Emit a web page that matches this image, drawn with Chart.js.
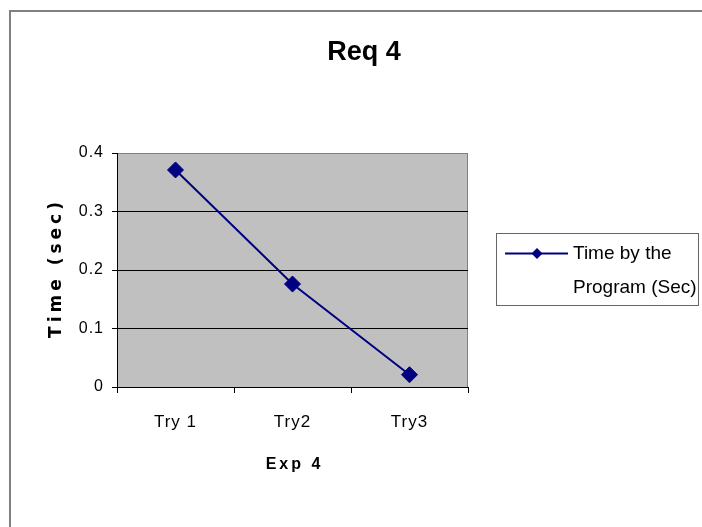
<!DOCTYPE html>
<html>
<head>
<meta charset="utf-8">
<script src="https://cdn.jsdelivr.net/npm/chart.js@4.4.1/dist/chart.umd.min.js"></script>
<style>
  html, body { margin: 0; padding: 0; background: #ffffff; }
  #wrap { width: 702px; height: 527px; }
</style>
</head>
<body>
<div id="wrap"><canvas id="chart" width="702" height="527"></canvas></div>
<script>
// Run times per attempt
const categories = ['Try 1', 'Try2', 'Try3'];
const timeValues = [0.371, 0.176, 0.021];
const yTicks = [0, 0.1, 0.2, 0.3, 0.4];

const chartTitle = 'Req 4';
const xTitle = 'Exp 4';
const yTitle = 'Time (sec)';
const legendLines = ['Time by the', 'Program (Sec)'];

const NAVY = '#000080';
const SANS = '"Liberation Sans", Arial, sans-serif';

function setSpacing(ctx, px) {
  if ('letterSpacing' in ctx) ctx.letterSpacing = px + 'px';
}

// Grey plot background, outer frame, titles and the boxed legend
const decor = {
  id: 'decor',
  beforeUpdate(chart) { setSpacing(chart.ctx, 1); },
  beforeDraw(chart) {
    const { ctx, chartArea: a } = chart;
    ctx.save();
    ctx.fillStyle = '#ffffff';
    ctx.fillRect(0, 0, chart.width, chart.height);
    // outer frame
    ctx.strokeStyle = '#808080';
    ctx.lineWidth = 2;
    ctx.strokeRect(10, 11, chart.width + 40, chart.height + 40);
    // plot area
    ctx.fillStyle = '#c0c0c0';
    ctx.fillRect(a.left, a.top, a.right - a.left, a.bottom - a.top);
    ctx.strokeStyle = '#808080';
    ctx.lineWidth = 1;
    ctx.strokeRect(a.left + 0.5, a.top + 0.5, a.right - a.left - 1, a.bottom - a.top);
    ctx.restore();
    setSpacing(ctx, 1);
  },
  afterDraw(chart) {
    const { ctx, chartArea: a } = chart;
    ctx.save();
    ctx.fillStyle = '#000000';
    ctx.textBaseline = 'middle';

    // chart title
    ctx.textAlign = 'center';
    ctx.font = 'bold 27px ' + SANS;
    setSpacing(ctx, 0);
    ctx.fillText(chartTitle, 364, 53);

    // x-axis title
    ctx.font = 'bold 16px ' + SANS;
    setSpacing(ctx, 3);
    ctx.fillText(xTitle, (a.left + a.right) / 2 + 2, 465);

    // y-axis title
    ctx.save();
    ctx.translate(57, (a.top + a.bottom) / 2);
    ctx.rotate(-Math.PI / 2);
    ctx.font = 'bold 17px "DejaVu Sans", sans-serif';
    setSpacing(ctx, 4);
    ctx.fillText(yTitle, 2, 0);
    ctx.restore();

    // legend
    const ds = chart.data.datasets[0];
    const bx = 496, by = 233, bw = 202, bh = 72;
    ctx.strokeStyle = '#666666';
    ctx.lineWidth = 1;
    ctx.strokeRect(bx + 0.5, by + 0.5, bw, bh);
    const ly = by + 20.5;
    ctx.strokeStyle = ds.borderColor;
    ctx.lineWidth = 2;
    ctx.beginPath();
    ctx.moveTo(bx + 9, ly);
    ctx.lineTo(bx + 72, ly);
    ctx.stroke();
    ctx.fillStyle = ds.pointBackgroundColor;
    ctx.beginPath();
    const cx = bx + 41, r = 5.5;
    ctx.moveTo(cx, ly - r);
    ctx.lineTo(cx + r, ly);
    ctx.lineTo(cx, ly + r);
    ctx.lineTo(cx - r, ly);
    ctx.closePath();
    ctx.fill();
    ctx.fillStyle = '#000000';
    ctx.textAlign = 'left';
    ctx.font = '19px ' + SANS;
    setSpacing(ctx, 0);
    legendLines.forEach((line, i) => ctx.fillText(line, bx + 77, ly + i * 34));

    ctx.restore();
    setSpacing(ctx, 1);
  }
};

new Chart(document.getElementById('chart'), {
  type: 'line',
  data: {
    labels: categories,
    datasets: [{
      label: legendLines.join(' '),
      data: timeValues,
      borderColor: NAVY,
      borderWidth: 2,
      tension: 0,
      pointStyle: 'rectRot',
      pointRadius: 8,
      pointHoverRadius: 8,
      pointBackgroundColor: NAVY,
      pointBorderColor: NAVY,
      pointBorderWidth: 1
    }]
  },
  options: {
    responsive: false,
    animation: false,
    events: [],
    layout: { padding: { top: 153, right: 234, left: 0, bottom: 0 } },
    plugins: {
      legend: { display: false },
      title: { display: false },
      tooltip: { enabled: false }
    },
    scales: {
      x: {
        type: 'category',
        offset: true,
        afterFit(scale) { scale.height = 140; },
        grid: {
          offset: true,
          drawOnChartArea: false,
          drawTicks: true,
          tickLength: 6,
          tickColor: '#000000',
          color: '#000000'
        },
        border: { display: true, color: '#000000', width: 1 },
        ticks: {
          color: '#000000',
          padding: 19,
          font: { family: SANS, size: 17 }
        }
      },
      y: {
        min: 0,
        max: 0.4,
        afterFit(scale) { scale.width = 117; },
        afterBuildTicks(scale) { scale.ticks = yTicks.map(v => ({ value: v })); },
        grid: {
          color: ctx => (ctx.tick && ctx.tick.value === 0.4 ? '#808080' : '#000000'),
          tickColor: '#000000',
          tickLength: 5,
          drawTicks: true
        },
        border: { display: true, color: '#000000', width: 1 },
        ticks: {
          color: '#000000',
          padding: 8,
          font: { family: SANS, size: 16 },
          callback: v => String(v)
        }
      }
    }
  },
  plugins: [decor]
});
</script>
</body>
</html>
